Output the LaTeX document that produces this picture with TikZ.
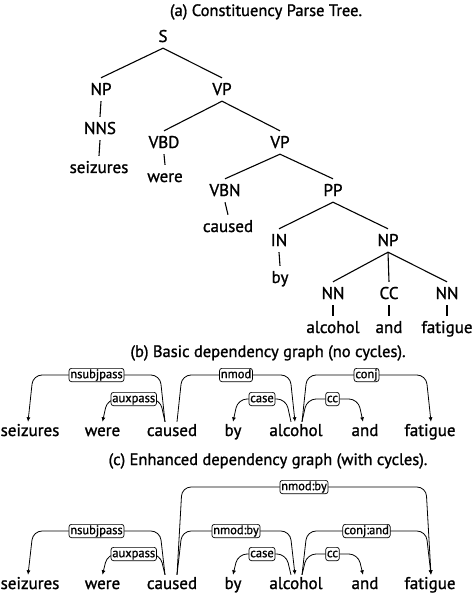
\documentclass[tikz,border=0pt]{standalone}
\usepackage{fontspec}
\setmainfont{PT Sans}[FakeBold=1.2]
\usetikzlibrary{calc,arrows.meta}
\newcommand{\depedge}[7]{% src, src dx, tgt, tgt dx, level, slant, label
  \draw[dep] let \p1=([xshift=#2bp]#1.north), \p2=([xshift=#4bp]#3.north) in
    (\p1) -- (\x1+#6bp, -#5bp) -- node[lbl]{#7} (\x2-#6bp, -#5bp) -- (\p2);
}
\begin{document}
\begin{tikzpicture}[x=1bp,y=-1bp,
  every node/.style={font=\fontsize{17bp}{20bp}\selectfont},
  title/.style={anchor=base, font=\fontsize{16.5bp}{20bp}\selectfont},
  tn/.style={anchor=base, inner sep=2bp, text height=15bp, text depth=4bp},
  tl/.style={line width=1.1bp},
  wd/.style={anchor=base, inner sep=2bp, text height=12bp, text depth=3bp},
  dep/.style={line width=0.8bp, rounded corners=9bp, -{Latex[length=4.5bp,width=4bp]}},
  lbl/.style={draw, fill=white, rounded corners=2.5bp, line width=0.7bp, inner sep=1.3bp,
    text height=8.5bp, text depth=2.2bp, font=\fontsize{12.5bp}{14bp}\selectfont}
]
\useasboundingbox (0,0) rectangle (473,596);
\fill[white] (0,0) rectangle (473,596);

% (a) constituency tree
\node[title] (ta) at (266,16) {(a) Constituency Parse Tree.};
\node[tn] (S) at (163,42) {S};
\node[tn] (NP) at (101,95) {NP};
\node[tn] (VP) at (222,95) {VP};
\node[tn] (NNS) at (100,134) {NNS};
\node[tn] (seizures) at (99,173) {seizures};
\node[tn] (VBD) at (164,148) {VBD};
\node[tn] (VPb) at (280,148) {VP};
\node[tn] (were) at (165,182) {were};
\node[tn] (VBN) at (225,196) {VBN};
\node[tn] (PP) at (333,196) {PP};
\node[tn] (caused) at (228,232) {caused};
\node[tn] (IN) at (279,246) {IN};
\node[tn] (NPb) at (388,246) {NP};
\node[tn] (by) at (280,283) {by};
\node[tn] (NN) at (333,299) {NN};
\node[tn] (CC) at (389,299) {CC};
\node[tn] (NNb) at (447,299) {NN};
\node[tn] (alcohol) at (333,333) {alcohol};
\node[tn] (and) at (389,333) {and};
\node[tn] (fatigue) at (447,333) {fatigue};
\draw[tl] (S.south) -- (NP.north);
\draw[tl] (S.south) -- (VP.north);
\draw[tl] (NP.south) -- (NNS.north);
\draw[tl] (NNS.south) -- (seizures.north);
\draw[tl] (VP.south) -- (VBD.north);
\draw[tl] (VP.south) -- (VPb.north);
\draw[tl] (VBD.south) -- (were.north);
\draw[tl] (VPb.south) -- (VBN.north);
\draw[tl] (VPb.south) -- (PP.north);
\draw[tl] (VBN.south) -- (caused.north);
\draw[tl] (PP.south) -- (IN.north);
\draw[tl] (PP.south) -- (NPb.north);
\draw[tl] (IN.south) -- (by.north);
\draw[tl] (NPb.south) -- (NN.north);
\draw[tl] (NPb.south) -- (CC.north);
\draw[tl] (NPb.south) -- (NNb.north);
\draw[tl] (NN.south) -- (alcohol.north);
\draw[tl] (CC.south) -- (and.north);
\draw[tl] (NNb.south) -- (fatigue.north);

% (b) basic dependency graph
\node[title] (tb) at (268,357) {(b) Basic dependency graph (no cycles).};
\node[wd] (b1) at (30,436) {seizures};
\node[wd] (b2) at (102.5,436) {were};
\node[wd] (b3) at (172,436) {caused};
\node[wd] (b4) at (233,436) {by};
\node[wd] (b5) at (296,436) {alcohol};
\node[wd] (b6) at (365,436) {and};
\node[wd] (b7) at (430,436) {fatigue};
\depedge{b3}{-7}{b1}{-2}{375}{-5}{nsubjpass}
\depedge{b3}{-7}{b2}{0}{399}{-5}{auxpass}
\depedge{b3}{5}{b5}{-1}{375}{5}{nmod}
\depedge{b5}{-5}{b4}{0}{399}{-5}{case}
\depedge{b5}{6}{b6}{-2}{399}{5}{cc}
\depedge{b5}{6}{b7}{1}{375}{5}{conj}

% (c) enhanced dependency graph
\node[title] (tc) at (268,465) {(c) Enhanced dependency graph (with cycles).};
\node[wd] (c1) at (30,589) {seizures};
\node[wd] (c2) at (102.5,589) {were};
\node[wd] (c3) at (172,589) {caused};
\node[wd] (c4) at (233,589) {by};
\node[wd] (c5) at (296,589) {alcohol};
\node[wd] (c6) at (365,589) {and};
\node[wd] (c7) at (430,589) {fatigue};
\depedge{c3}{5}{c7}{1}{487}{5}{nmod:by}
\depedge{c3}{-7}{c1}{-2}{531}{-5}{nsubjpass}
\depedge{c3}{-7}{c2}{0}{554}{-5}{auxpass}
\depedge{c3}{5}{c5}{-1}{531}{5}{nmod:by}
\depedge{c5}{-5}{c4}{0}{554}{-5}{case}
\depedge{c5}{6}{c6}{-2}{554}{5}{cc}
\depedge{c5}{6}{c7}{1}{531}{5}{conj:and}
\end{tikzpicture}
\end{document}
